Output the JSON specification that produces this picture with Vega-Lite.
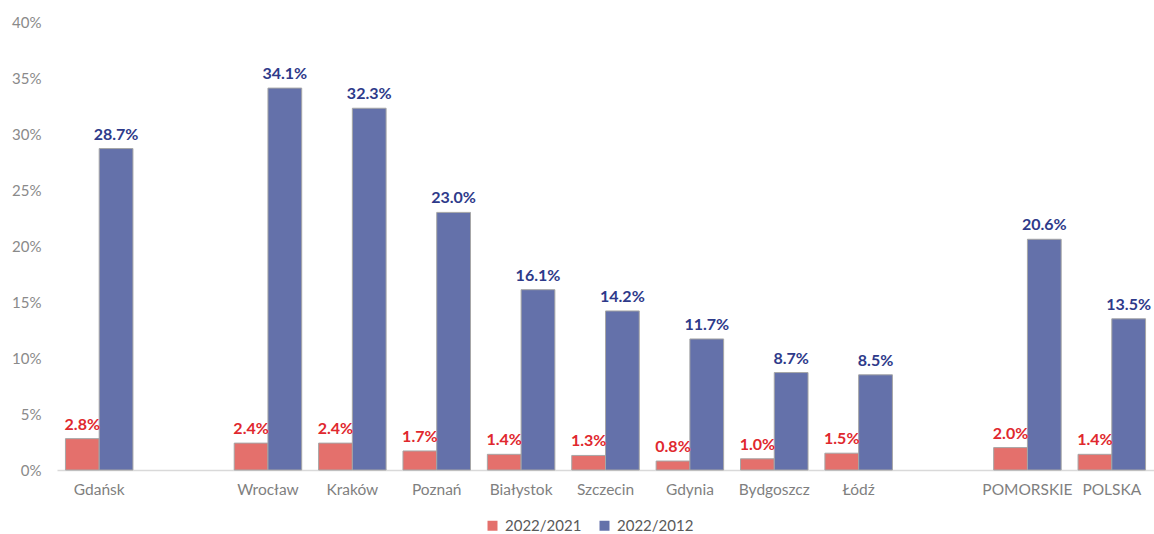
{
  "$schema": "https://vega.github.io/schema/vega-lite/v6.json",
  "width": 1097,
  "height": 448,
  "autosize": "none",
  "padding": {"left": 57, "top": 22, "right": 0, "bottom": 64},
  "config": {"view": {"stroke": null}, "font": "Lato"},
  "data": {
    "values": [
      {"city": "Gdańsk", "series": "2022/2021", "value": 0.028},
      {"city": "Gdańsk", "series": "2022/2012", "value": 0.287},
      {"city": "Wrocław", "series": "2022/2021", "value": 0.024},
      {"city": "Wrocław", "series": "2022/2012", "value": 0.341},
      {"city": "Kraków", "series": "2022/2021", "value": 0.024},
      {"city": "Kraków", "series": "2022/2012", "value": 0.323},
      {"city": "Poznań", "series": "2022/2021", "value": 0.017},
      {"city": "Poznań", "series": "2022/2012", "value": 0.230},
      {"city": "Białystok", "series": "2022/2021", "value": 0.014},
      {"city": "Białystok", "series": "2022/2012", "value": 0.161},
      {"city": "Szczecin", "series": "2022/2021", "value": 0.013},
      {"city": "Szczecin", "series": "2022/2012", "value": 0.142},
      {"city": "Gdynia", "series": "2022/2021", "value": 0.008},
      {"city": "Gdynia", "series": "2022/2012", "value": 0.117},
      {"city": "Bydgoszcz", "series": "2022/2021", "value": 0.010},
      {"city": "Bydgoszcz", "series": "2022/2012", "value": 0.087},
      {"city": "Łódź", "series": "2022/2021", "value": 0.015},
      {"city": "Łódź", "series": "2022/2012", "value": 0.085},
      {"city": "POMORSKIE", "series": "2022/2021", "value": 0.020},
      {"city": "POMORSKIE", "series": "2022/2012", "value": 0.206},
      {"city": "POLSKA", "series": "2022/2021", "value": 0.014},
      {"city": "POLSKA", "series": "2022/2012", "value": 0.135}
    ]
  },
  "encoding": {
    "x": {
      "field": "city",
      "type": "nominal",
      "sort": null,
      "title": null,
      "scale": {
        "domain": ["Gdańsk", "gap1", "Wrocław", "Kraków", "Poznań", "Białystok", "Szczecin", "Gdynia", "Bydgoszcz", "Łódź", "gap2", "POMORSKIE", "POLSKA"],
        "paddingInner": 0.2,
        "paddingOuter": 0.1
      },
      "axis": {
        "labelExpr": "indexof(datum.value, 'gap') == 0 ? '' : datum.value",
        "labelAngle": 0,
        "labelFontSize": 15.5,
        "labelColor": "#7f7f7f",
        "labelPadding": 12,
        "ticks": false,
        "domainColor": "#d9d9d9",
        "domainWidth": 1.5,
        "grid": false
      }
    },
    "xOffset": {
      "field": "series",
      "type": "nominal",
      "sort": ["2022/2021", "2022/2012"],
      "scale": {"paddingInner": 0, "paddingOuter": 0}
    },
    "y": {
      "field": "value",
      "type": "quantitative",
      "title": null,
      "scale": {"domain": [0, 0.4], "nice": false},
      "axis": {
        "values": [0, 0.05, 0.1, 0.15, 0.2, 0.25, 0.3, 0.35, 0.4],
        "format": ".0%",
        "labelFontSize": 15,
        "labelColor": "#8a8a8a",
        "labelPadding": 16,
        "ticks": false,
        "domain": false,
        "grid": false
      }
    }
  },
  "layer": [
    {
      "mark": {"type": "bar", "stroke": "#a6a6a6", "strokeWidth": 1},
      "encoding": {
        "color": {
          "field": "series",
          "type": "nominal",
          "scale": {"domain": ["2022/2021", "2022/2012"], "range": ["#E4706C", "#6471AA"]},
          "legend": {
            "title": null,
            "orient": "none",
            "direction": "horizontal",
            "legendX": 428,
            "legendY": 496,
            "symbolType": "square",
            "symbolSize": 100,
            "symbolStrokeWidth": 0,
            "labelFontSize": 15,
            "labelColor": "#595959",
            "labelOffset": 5,
            "columnPadding": 15
          }
        }
      }
    },
    {
      "mark": {"type": "text", "baseline": "bottom", "dy": -6, "fontSize": 16, "fontWeight": "bold"},
      "encoding": {
        "text": {"field": "value", "type": "quantitative", "format": ".1%"},
        "color": {
          "field": "series",
          "type": "nominal",
          "scale": {"domain": ["2022/2021", "2022/2012"], "range": ["#E0282E", "#2E3A8A"]},
          "legend": null
        }
      }
    }
  ],
  "resolve": {"scale": {"color": "independent"}}
}
